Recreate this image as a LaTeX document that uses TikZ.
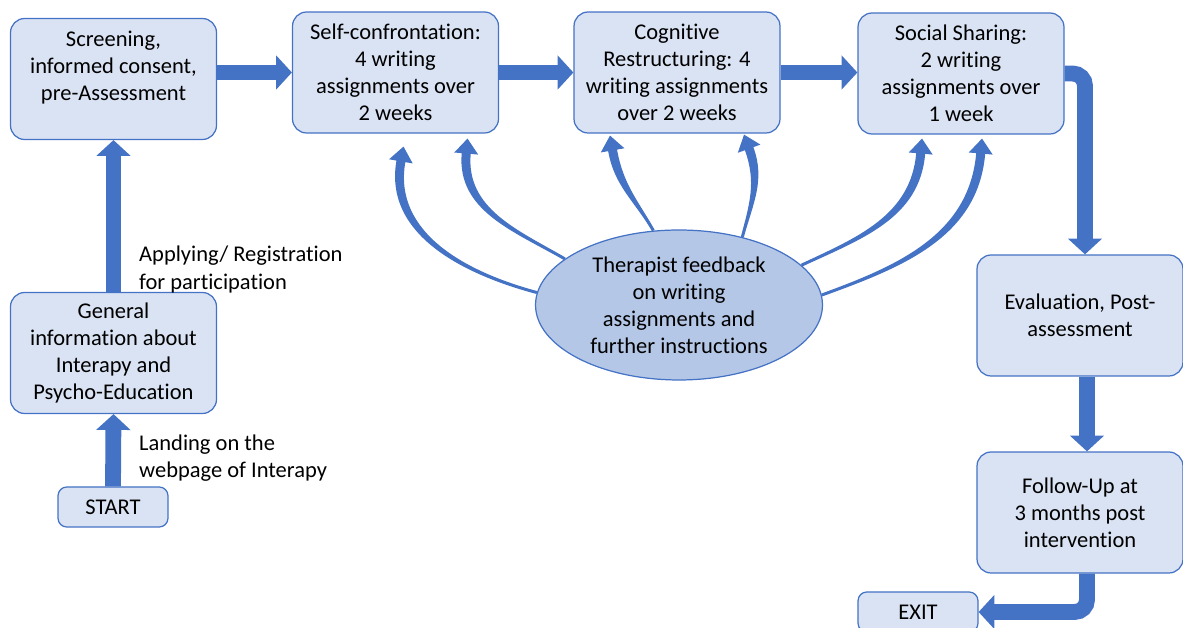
\documentclass[tikz,border=0pt]{standalone}
\usepackage{fontspec}
\setmainfont{Carlito}[Ligatures=NoCommon]
\usetikzlibrary{arrows.meta}
\usetikzlibrary{calc}
\usetikzlibrary{shapes.geometric}
\usepackage{xcolor}
\definecolor{boxfill}{HTML}{DAE3F3}
\definecolor{boxline}{HTML}{4472C4}
\definecolor{arrowblue}{HTML}{4472C4}
\definecolor{fbfill}{HTML}{B4C7E7}

\begin{document}
\begin{tikzpicture}[x=0.02cm,y=0.02cm,
    font=\fontsize{12.8}{15.4}\selectfont,
    stage/.style={draw=boxline, fill=boxfill, line width=0.7pt, rounded corners=8pt,
      align=center, minimum width=4.12cm, minimum height=2.42cm, inner sep=2pt},
    endbox/.style={stage, minimum height=0.8cm, rounded corners=5pt},
    bigarrow/.style={draw=arrowblue, line width=9pt, -{Triangle[width=19pt,length=9pt]}}]

        % Frame
        \useasboundingbox (0,0) rectangle (1183,628);
        \clip (0,0) rectangle (1183,628);

        % Stages
        \node[stage] (screen) at (113.5,549) {Screening,\\informed consent,\\pre-Assessment\\~};
        \node[stage] (self) at (395.5,555.5) {Self-confrontation:\\4 writing\\assignments over\\2 weeks};
        \node[stage] (cog) at (677,555.5) {Cognitive\\Restructuring: 4\\writing assignments\\over 2 weeks};
        \node[stage] (soc) at (961,554.5) {Social Sharing:\\2 writing\\assignments over\\1 week};
        \node[stage] (gen) at (113.5,275) {General\\information about\\Interapy and\\Psycho-Education};
        \node[stage] (eval) at (1080,312.5) {Evaluation, Post-\\assessment};
        \node[stage] (follow) at (1080,115.5) {Follow-Up at\\3 months post\\intervention};
        \node[endbox, minimum width=2.2cm] (start) at (113,121) {START};
        \node[endbox, minimum width=2.4cm] (exit) at (918,16) {EXIT};

        % Feedback
        \node[ellipse, draw=boxline, fill=fbfill, line width=0.7pt, align=center,
          minimum width=5.74cm, minimum height=3cm, inner sep=0pt] (fb) at (679,323)
          {Therapist feedback\\on writing\\assignments and\\further instructions};

        % Labels
        \node[anchor=west, align=left] (applab) at (133,358.5) {Applying/ Registration\\for participation};
        \node[anchor=west, align=left] (landlab) at (133,169.5) {Landing on the\\webpage of Interapy};

        % Main flow
        \draw[bigarrow] (start.north) -- (gen.south);
        \draw[bigarrow] (gen.north) -- (screen.south);
        \draw[bigarrow] (screen.east |- self.west) -- (self.west);
        \draw[bigarrow] (self.east) -- (cog.west);
        \draw[bigarrow] (cog.east) -- (cog.east -| soc.west);
        \draw[bigarrow, rounded corners=7pt] (soc.east) -| ([xshift=0.1cm]eval.north);
        \draw[bigarrow] ([xshift=0.14cm]eval.south) -- ([xshift=0.14cm]follow.north);
        \draw[bigarrow, rounded corners=7pt] ([xshift=0.14cm]follow.south) |- (exit.east);

        % Feedback arrows (tapered)
        \foreach \a/\o/\i/\bx/\dx/\dy in {175/165/-100/self/8/-13, 158/150/-95/self/72/-5,
                                          109/120/-80/cog/-67/-2, 47/75/-70/cog/67/-1,
                                          18/25/-95/soc/-39/-4, 4/20/-95/soc/21/-4}
        {
          \coordinate (tip) at ($(\bx.south)+(\dx,\dy)$);
          \coordinate (base) at ($(tip)+(\i:15)$);
          \fill[arrowblue] ($(fb.\a)+(\o+90:1.5)$) to[out=\o,in=\i] ($(base)+(\i-90:4.5)$)
            -- ($(base)+(\i-90:12)$) -- (tip) -- ($(base)+(\i+90:12)$)
            -- ($(base)+(\i+90:4.5)$) to[out=\i,in=\o] ($(fb.\a)+(\o-90:1.5)$) -- cycle;
        }
\end{tikzpicture}
\end{document}
